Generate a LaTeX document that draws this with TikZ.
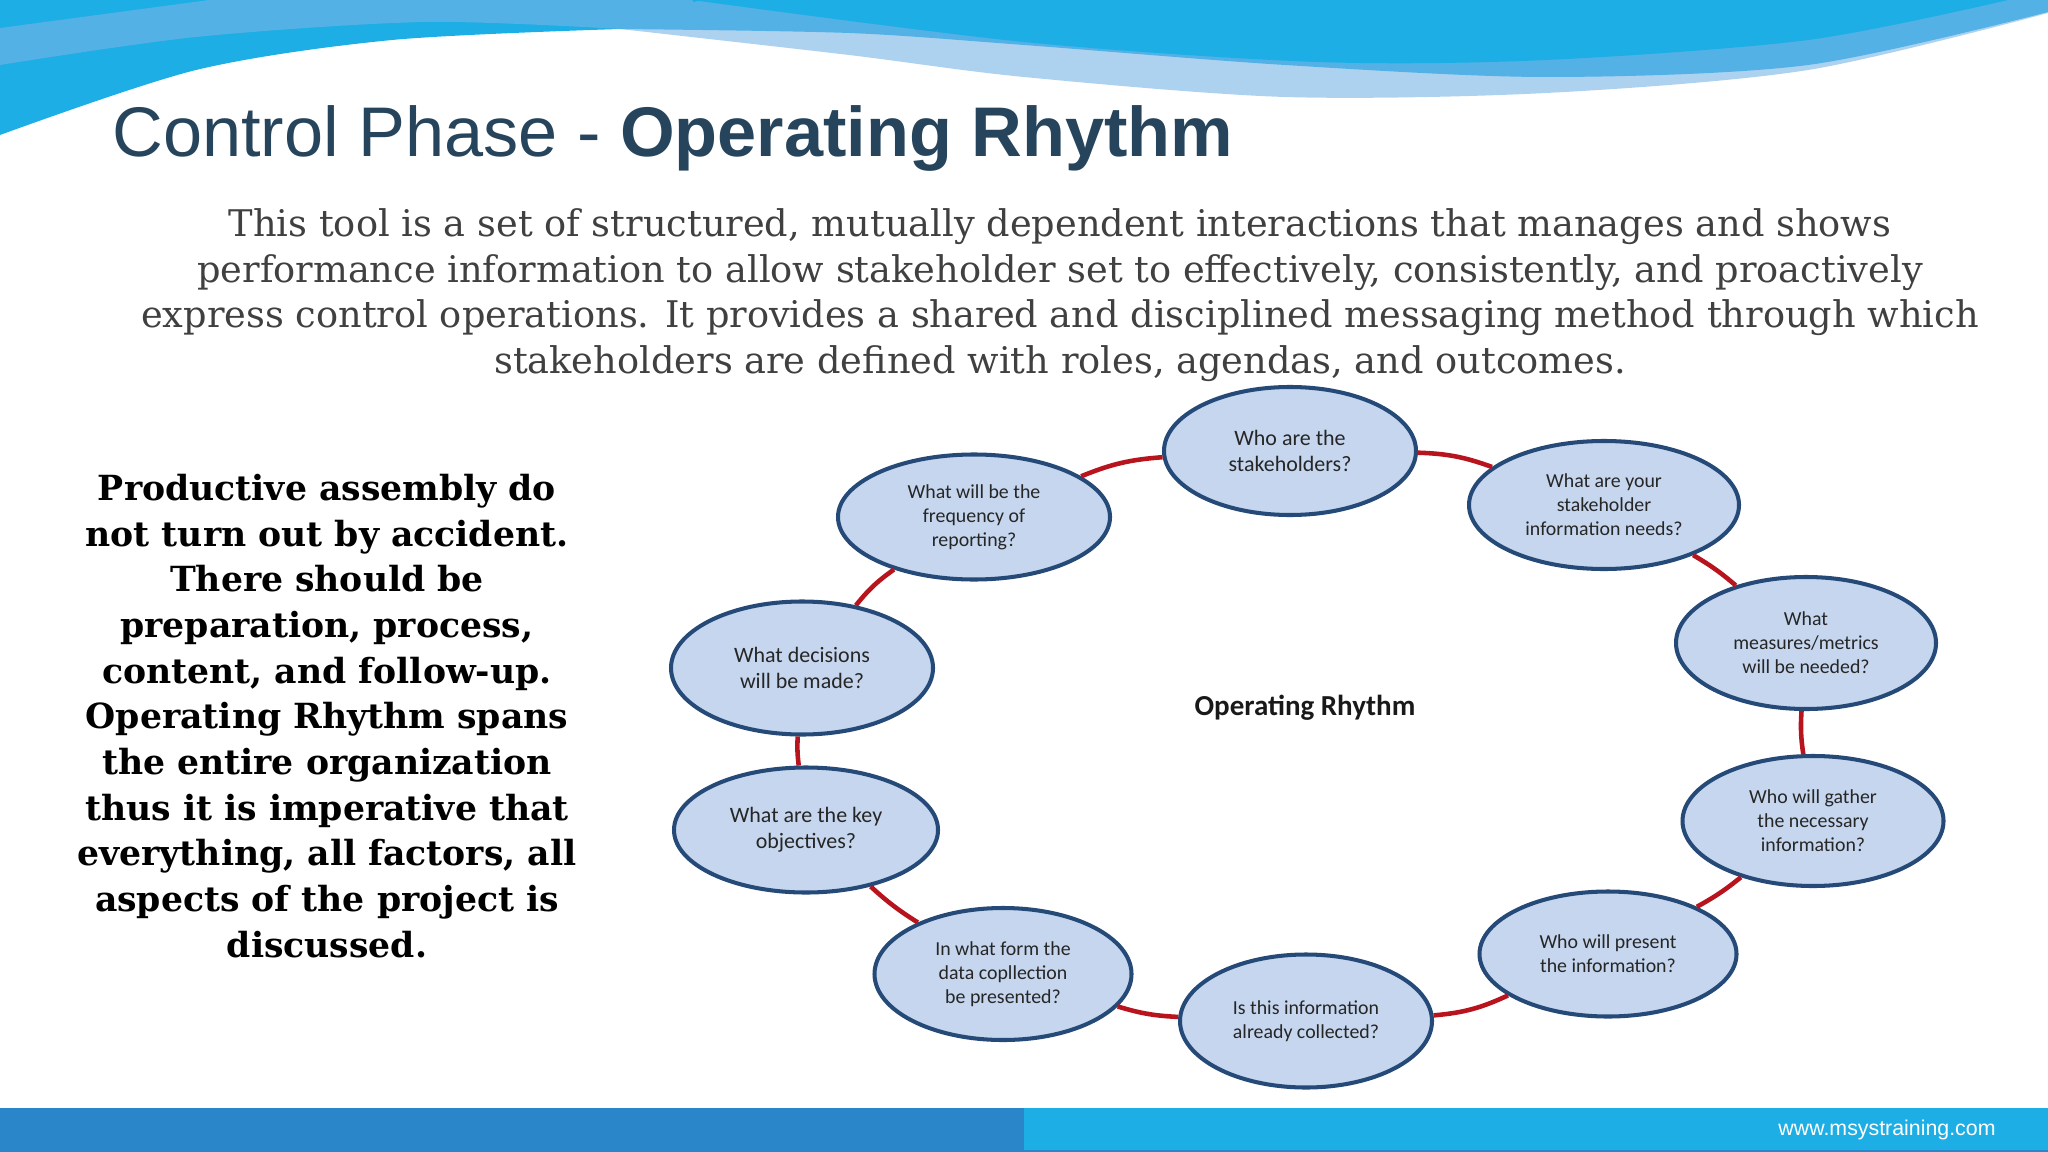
\documentclass[tikz,border=0pt]{standalone}
\usepackage{fontspec}
\usepackage{tikz}
\usetikzlibrary{shapes.geometric}
\setmainfont{Liberation Sans}
\newfontfamily\bodyfont{DejaVu Serif}
\newfontfamily\bubblefont{Carlito}
\definecolor{wavecyan}{HTML}{1CAEE4}
\definecolor{wavemid}{HTML}{53B1E6}
\definecolor{wavelight}{HTML}{ADD2F0}
\definecolor{footblue}{HTML}{2A86C8}
\definecolor{titleink}{HTML}{26455C}
\definecolor{bodyink}{HTML}{404040}
\definecolor{bubblefill}{HTML}{C5D6EE}
\definecolor{bubbleline}{HTML}{264A78}
\definecolor{linkred}{HTML}{B8141E}
\tikzset{
  bubble/.style={ellipse,draw=bubbleline,fill=bubblefill,line width=2.3pt,align=center,text=black!85,font=\bubblefont\fontsize{12.5}{15}\selectfont},
  smallbubble/.style={bubble,font=\bubblefont\fontsize{11.3}{13.7}\selectfont},
  ringlink/.style={draw=linkred,line width=2.6pt,bend left=5}
}

\begin{document}
\begin{tikzpicture}[scale=0.2]
\tikzstyle{every node}+=[inner sep=0pt]
\useasboundingbox (0,0) rectangle (204.8,-115.2);
\fill [wavelight] plot [smooth] coordinates {(62,-2.9) (84.9,-5.5) (102.4,-7.7) (128.5,-9.7) (154.6,-9.3) (180.8,-7) (204.8,-1.3)} -- (204.8,0) -- (62,0) -- cycle;
\fill [wavemid] plot [smooth] coordinates {(62,-2.9) (84.9,-3.3) (102.4,-4.5) (128.5,-6.5) (154.6,-7.7) (180.8,-6.5) (204.8,-1.2)} -- (204.8,0) -- (62,0) -- cycle;
\fill [wavecyan] plot [smooth] coordinates {(0,-13.5) (19.6,-7) (39.2,-4) (62,-2.9)} -- (70,0) -- (0,0) -- cycle;
\fill [wavemid] plot [smooth] coordinates {(0,-6.5) (19.6,-3.7) (42.5,-2.2) (62,-2.9)} -- (70,-1) -- (69.2,0) -- (20.9,0) -- (0,-2.8) -- cycle;
\fill [wavecyan] plot [smooth] coordinates {(69.2,0) (102.4,-4.2) (131.8,-6.2) (154.6,-6) (180.8,-4) (200.8,0)} -- cycle;
\fill [footblue] (0,-110.8) rectangle (102.4,-115.2);
\fill [wavecyan] (102.4,-110.8) rectangle (204.8,-115);
\fill [footblue] (102.4,-115) rectangle (204.8,-115.2);
\node (title) [anchor=base west,text=titleink,font=\fontsize{40}{40}\selectfont] at (11.2,-15.7) {Control Phase - \textbf{Operating Rhythm}};
\node (intro) [align=center,text=bodyink,font=\bodyfont\fontsize{20.9}{26}\selectfont] at (106,-29.5) {This tool is a set of structured, mutually dependent interactions that manages and shows\\performance information to allow stakeholder set to effectively, consistently, and proactively\\express control operations. It provides a shared and disciplined messaging method through which\\stakeholders are defined with roles, agendas, and outcomes.};
\node (sidetext) [align=center,text=black,font=\bodyfont\bfseries\fontsize{19.7}{26}\selectfont] at (32.7,-71.6) {Productive assembly do\\not turn out by accident.\\There should be\\preparation, process,\\content, and follow-up.\\Operating Rhythm spans\\the entire organization\\thus it is imperative that\\everything, all factors, all\\aspects of the project is\\discussed.};
\node (who) [bubble,minimum width=5.04cm,minimum height=2.56cm] at (129,-45.1) {Who are the\\stakeholders?};
\node (needs) [smallbubble,minimum width=5.4cm,minimum height=2.56cm] at (160.4,-50.5) {What are your\\stakeholder\\information needs?};
\node (metrics) [smallbubble,minimum width=5.2cm,minimum height=2.64cm] at (180.6,-64.3) {What\\measures/metrics\\will be needed?};
\node (gather) [smallbubble,minimum width=5.22cm,minimum height=2.6cm] at (181.3,-82.1) {Who will gather\\the necessary\\information?};
\node (present) [smallbubble,minimum width=5.14cm,minimum height=2.5cm] at (160.8,-95.4) {Who will present\\the information?};
\node (collected) [smallbubble,minimum width=5.04cm,minimum height=2.66cm] at (130.6,-102.1) {Is this information\\already collected?};
\node (form) [smallbubble,minimum width=5.14cm,minimum height=2.64cm] at (100.3,-97.4) {In what form the\\data copllection\\be presented?};
\node (objectives) [bubble,minimum width=5.28cm,minimum height=2.5cm] at (80.6,-83) {What are the key\\objectives?};
\node (decisions) [bubble,minimum width=5.24cm,minimum height=2.66cm] at (80.2,-66.8) {What decisions\\will be made?};
\node (frequency) [smallbubble,minimum width=5.44cm,minimum height=2.5cm] at (97.4,-51.7) {What will be the\\frequency of\\reporting?};
\node (hub) [font=\bubblefont\bfseries\fontsize{16.5}{18}\selectfont,text=black!90] at (130.5,-70.8) {Operating Rhythm};
\node (site) [text=white,font=\fontsize{12.15}{14}\selectfont] at (188.7,-113) {www.msystraining.com};
\draw [ringlink,bend left=9] (who) to (needs);
\draw [ringlink] (needs) to (metrics);
\draw [ringlink,bend right=6] (metrics) to (gather);
\draw [ringlink] (gather) to (present);
\draw [ringlink,bend left=10] (present) to (collected);
\draw [ringlink,bend left=7] (collected) to (form);
\draw [ringlink] (form) to (objectives);
\draw [ringlink] (objectives) to (decisions);
\draw [ringlink,bend left=8] (decisions) to (frequency);
\draw [ringlink,bend left=9] (frequency) to (who);
\end{tikzpicture}
\end{document}
